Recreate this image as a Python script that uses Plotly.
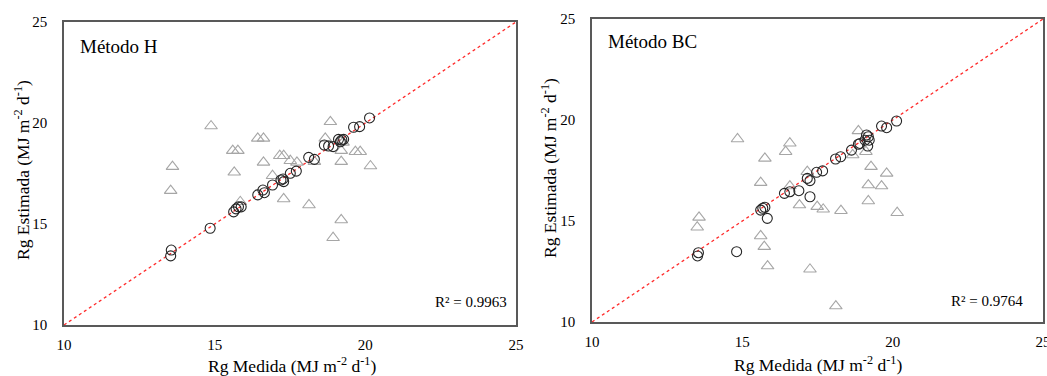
import plotly.graph_objects as go

W, H = 1047, 376

# ---- Data: Método H ----
h_circ_x = [13.54, 13.56, 14.85, 15.63, 15.71, 15.79, 15.88, 16.43, 16.60, 16.65, 16.92,
            17.20, 17.27, 17.29, 17.51, 17.71, 18.12, 18.31, 18.64, 18.78, 18.93, 19.11,
            19.17, 19.22, 19.28, 19.61, 19.81, 20.14]
h_circ_y = [13.42, 13.71, 14.79, 15.60, 15.75, 15.85, 15.85, 16.44, 16.68, 16.55, 16.93,
            17.18, 17.23, 17.10, 17.51, 17.62, 18.30, 18.20, 18.91, 18.86, 18.83, 19.19,
            19.07, 19.16, 19.19, 19.79, 19.82, 20.25]
h_tri_x = [13.60, 13.54, 14.88, 15.60, 15.77, 15.65, 15.85, 16.43, 16.62, 16.62, 16.92,
           17.16, 17.29, 17.29, 17.51, 17.73, 18.13, 18.31, 18.67, 18.84, 18.93, 19.20,
           19.20, 19.26, 19.20, 19.67, 19.83, 20.17]
h_tri_y = [17.84, 16.65, 19.85, 18.63, 18.63, 17.56, 16.10, 19.24, 19.24, 18.05, 17.39,
           18.38, 18.38, 16.24, 18.13, 18.05, 15.94, 18.09, 19.24, 20.06, 14.32, 18.63,
           18.09, 19.04, 15.20, 18.58, 18.58, 17.87]

# ---- Data: Método BC ----
bc_circ_x = [13.54, 13.51, 14.81, 15.61, 15.68, 15.75, 15.83, 16.40, 16.58, 16.88, 17.25,
             17.16, 17.25, 17.47, 17.67, 18.10, 18.27, 18.63, 18.86, 18.91, 19.13, 19.19,
             19.22, 19.17, 19.08, 19.63, 19.80, 20.13]
bc_circ_y = [13.43, 13.27, 13.48, 15.54, 15.63, 15.68, 15.13, 16.37, 16.45, 16.50, 16.20,
             17.11, 17.00, 17.41, 17.48, 18.07, 18.18, 18.51, 18.80, 18.84, 19.26, 19.17,
             19.00, 18.71, 19.00, 19.70, 19.62, 19.95]
bc_tri_x = [13.56, 13.50, 14.84, 15.61, 15.75, 15.61, 15.73, 15.84, 16.44, 16.58, 16.58,
            16.90, 17.16, 17.25, 17.49, 17.69, 18.11, 18.28, 18.67, 18.86, 19.11, 19.28,
            19.19, 19.19, 19.63, 19.80, 20.15]
bc_tri_y = [15.18, 14.69, 19.06, 16.90, 18.10, 14.26, 13.73, 12.77, 18.43, 18.85, 16.73,
            15.79, 17.44, 12.61, 15.71, 15.58, 10.79, 15.51, 18.27, 19.46, 18.43, 17.69,
            16.78, 15.99, 16.73, 17.36, 15.41]

line_xy = [10, 25]
ticks = [10, 15, 20, 25]
panel_labels = ["Método H", "Método BC"]
r2_labels = ["R² = 0.9963", "R² = 0.9764"]
x_title = "Rg Medida (MJ m<sup>-2</sup> d<sup>-1</sup>)"
y_title = "Rg Estimada (MJ m<sup>-2</sup> d<sup>-1</sup>)"

FONT = "Liberation Serif"
TRI_COL = "#a6a6a6"
CIRC_COL = "#262626"
AX_COL = "#595959"

# plot boxes in screen pixels: (left, right, top, bottom)
boxes = [(64, 516, 22, 325), (592, 1043, 19, 322)]

def px(x):
    return x / W

def py(y):
    return 1 - y / H

fig = go.Figure()

data = [(h_circ_x, h_circ_y, h_tri_x, h_tri_y), (bc_circ_x, bc_circ_y, bc_tri_x, bc_tri_y)]
for i, (cx, cy, tx, ty) in enumerate(data):
    xa = "x" if i == 0 else "x2"
    ya = "y" if i == 0 else "y2"
    fig.add_trace(go.Scatter(x=line_xy, y=line_xy, mode="lines", xaxis=xa, yaxis=ya,
                             line=dict(color="#ff2a2a", width=1.3, dash="dot"),
                             hoverinfo="skip", showlegend=False))
    fig.add_trace(go.Scatter(x=tx, y=ty, mode="markers", xaxis=xa, yaxis=ya,
                             marker=dict(symbol="triangle-up-open", size=11, color=TRI_COL,
                                         line=dict(width=1.1, color=TRI_COL)),
                             showlegend=False))
    fig.add_trace(go.Scatter(x=cx, y=cy, mode="markers", xaxis=xa, yaxis=ya,
                             marker=dict(symbol="circle-open", size=10, color=CIRC_COL,
                                         line=dict(width=1.1, color=CIRC_COL)),
                             showlegend=False))

axis_common = dict(range=[10, 25], tickvals=ticks, showgrid=False, zeroline=False,
                   showline=True, linecolor=AX_COL, linewidth=1.5, mirror=True,
                   automargin=False, ticks="", ticklabeloverflow="allow",
                   tickfont=dict(family=FONT, size=15, color="#000"))

layout = dict(width=W, height=H, margin=dict(l=0, r=0, t=0, b=0, autoexpand=False),
              plot_bgcolor="white", paper_bgcolor="white", showlegend=False)
for i, (l, r, t, b) in enumerate(boxes):
    sfx = "" if i == 0 else "2"
    layout["xaxis" + sfx] = dict(axis_common, domain=[px(l), px(r)],
                                 anchor="y" + sfx, ticklabelstandoff=5)
    layout["yaxis" + sfx] = dict(axis_common, domain=[py(b), py(t)],
                                 anchor="x" + sfx, ticklabelstandoff=12)
fig.update_layout(**layout)

anns = []
title_pos = [((292, 365), (22, 170)), ((818, 364), (549, 168))]
label_pos = [(78, 46), (606, 41)]
r2_pos = [(509, 302), (1025, 301)]
for i in range(2):
    (xtx, xty), (ytx, yty) = title_pos[i]
    anns.append(dict(x=px(xtx), y=py(xty), xref="paper", yref="paper", text=x_title,
                     xanchor="center", yanchor="middle", showarrow=False,
                     font=dict(family=FONT, size=17.5, color="#000")))
    anns.append(dict(x=px(ytx), y=py(yty), xref="paper", yref="paper", text=y_title,
                     xanchor="center", yanchor="middle", textangle=-90, showarrow=False,
                     font=dict(family=FONT, size=17.5, color="#000")))
    anns.append(dict(x=px(label_pos[i][0]), y=py(label_pos[i][1]), xref="paper",
                     yref="paper", text=panel_labels[i], showarrow=False,
                     xanchor="left", yanchor="middle",
                     font=dict(family=FONT, size=19, color="#000")))
    anns.append(dict(x=px(r2_pos[i][0]), y=py(r2_pos[i][1]), xref="paper",
                     yref="paper", text=r2_labels[i], showarrow=False,
                     xanchor="right", yanchor="middle",
                     font=dict(family=FONT, size=15, color="#000")))
fig.update_layout(annotations=anns)

fig.write_html("out.html", config={"displayModeBar": False},
               post_script="document.body.style.margin='0';"
                           "document.body.style.overflow='hidden';")
